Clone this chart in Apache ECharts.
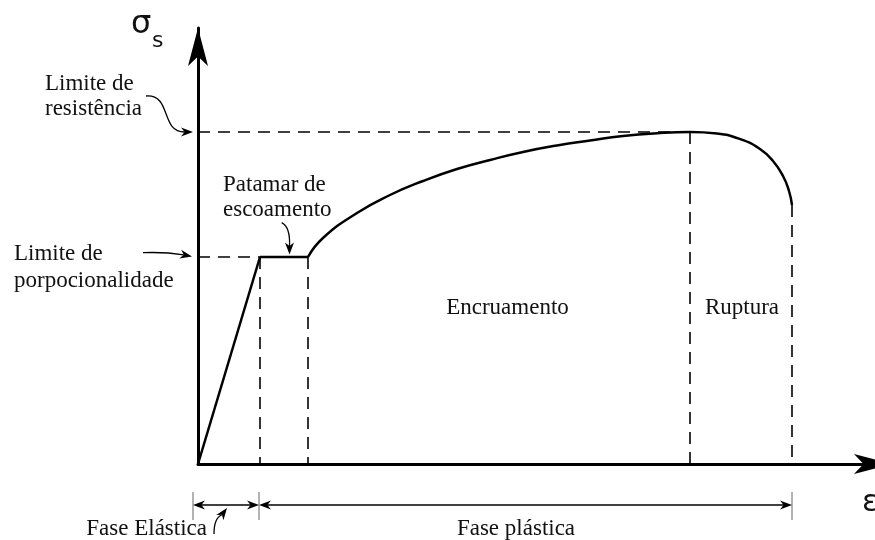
<!DOCTYPE html>
<html>
<head>
<meta charset="utf-8">
<script src="https://cdn.jsdelivr.net/npm/echarts@6/dist/echarts.min.js"></script>
<style>
  html, body { margin: 0; padding: 0; background: #fff; }
  #chart { width: 875px; height: 540px; }
</style>
</head>
<body>
<div id="chart"></div>
<script>
// 弹性段 (ε, σ)
const elastic = [[0, 0], [6.2, 20.7]];
// 屈服平台
const plateau = [[6.2, 20.7], [11.0, 20.7]];
// 强化段 + 颈缩段
const hardening = [
  [11.0, 20.7], [12.5, 22.6], [15.9, 25.1], [19.2, 26.9], [22.5, 28.3],
  [25.9, 29.5], [29.2, 30.4], [32.5, 31.2], [35.9, 31.85], [39.2, 32.35],
  [42.5, 32.8], [45.9, 33.08], [49.2, 33.2], [51.9, 33.05], [54.2, 32.5],
  [56.2, 31.5], [57.5, 30.3], [58.5, 28.8], [59.1, 27.3], [59.4, 25.9]
];
// 辅助虚线
const guidesH = [[0, 20.7, 6.2], [0, 33.2, 49.2]];
const guidesV = [[6.2, 20.7], [11.0, 20.7], [49.2, 33.2], [59.4, 25.9]];
// 阶段分界 (ε)
const phaseBounds = [-0.5, 6.1, 59.4];
const phaseNames = ['Fase Elástica', 'Fase plástica'];

const serif = 'Liberation Serif';
const ink = '#111';

const dashStyle = { color: '#000', width: 1.6, type: [12, 8] };
const solidStyle = { color: '#000', width: 2.5 };

const series = [];
guidesH.forEach(g => series.push({
  type: 'line', data: [[g[0], g[1]], [g[2], g[1]]], symbol: 'none', silent: true, lineStyle: dashStyle
}));
guidesV.forEach(g => series.push({
  type: 'line', data: [[g[0], g[1]], [g[0], 0]], symbol: 'none', silent: true, lineStyle: dashStyle
}));
series.push(
  { type: 'line', data: elastic, symbol: 'none', silent: true, lineStyle: solidStyle },
  { type: 'line', data: plateau, symbol: 'none', silent: true, lineStyle: solidStyle },
  { type: 'line', data: hardening, symbol: 'none', silent: true, smooth: 0.5, lineStyle: solidStyle }
);

const axisCommon = {
  type: 'value',
  axisLine: {
    show: true,
    symbol: ['none', 'arrow'],
    symbolSize: [15, 38],
    lineStyle: { color: '#000', width: 3 }
  },
  axisTick: { show: false },
  axisLabel: { show: false },
  splitLine: { show: false }
};

const option = {
  animation: false,
  backgroundColor: '#fff',
  grid: { left: 198, right: -17, top: 28, bottom: 76, containLabel: false, outerBoundsMode: 'none' },
  xAxis: Object.assign({}, axisCommon, { min: 0, max: 69.4 }),
  yAxis: Object.assign({}, axisCommon, { min: 0, max: 43.6 }),
  series: series
};

const chart = echarts.init(document.getElementById('chart'));
chart.setOption(option);

const toPx = pt => chart.convertToPixel({ gridIndex: 0 }, pt);

// 箭头
function arrowHead(tip, angle, len = 12, half = 4.5) {
  const c = Math.cos(angle), s = Math.sin(angle);
  const pt = (a, b) => [tip[0] + a * c - b * s, tip[1] + a * s + b * c];
  return {
    type: 'polygon', silent: true,
    shape: { points: [pt(0, 0), pt(-len, -half), pt(-len * 0.7, 0), pt(-len, half)] },
    style: { fill: '#000' }
  };
}

function curvedArrow(tail, cp1, cp2, tip, angle) {
  const len = 12;
  const end = [tip[0] - Math.cos(angle) * len * 0.7, tip[1] - Math.sin(angle) * len * 0.7];
  return [{
    type: 'bezierCurve', silent: true,
    shape: { x1: tail[0], y1: tail[1], cpx1: cp1[0], cpy1: cp1[1], cpx2: cp2[0], cpy2: cp2[1], x2: end[0], y2: end[1] },
    style: { stroke: '#000', lineWidth: 1.3, fill: null }
  }, arrowHead(tip, angle, len, 4.5)];
}

function label(text, x, y, opts = {}) {
  return {
    type: 'text', silent: true, x: x, y: y,
    style: Object.assign({
      text: text, font: '23px "' + serif + '"', fill: ink,
      textAlign: 'left', textVerticalAlign: 'middle', lineHeight: 26
    }, opts)
  };
}

const elements = [];

// 阶段尺寸线
const dimY = -4.1, dimTop = -2.8, dimBottom = -5.6;
phaseBounds.forEach(b => {
  const p1 = toPx([b, dimTop]), p2 = toPx([b, dimBottom]);
  elements.push({
    type: 'line', silent: true,
    shape: { x1: p1[0], y1: p1[1], x2: p2[0], y2: p2[1] },
    style: { stroke: '#666', lineWidth: 1 }
  });
});
for (let i = 0; i < phaseNames.length; i++) {
  const a = toPx([phaseBounds[i], dimY]), b = toPx([phaseBounds[i + 1], dimY]);
  elements.push({
    type: 'line', silent: true,
    shape: { x1: a[0] + 6, y1: a[1], x2: b[0] - 6, y2: b[1] },
    style: { stroke: '#000', lineWidth: 1.3 }
  });
  elements.push(arrowHead(a, Math.PI), arrowHead(b, 0));
}
elements.push(label(phaseNames[0], 207, 529, { textAlign: 'right' }));
elements.push(label(phaseNames[1], 516, 529, { textAlign: 'center' }));

// 注释文字
elements.push(label('Limite de\nresistência', 45, 96, { lineHeight: 25 }));
elements.push(label('Limite de\nporpocionalidade', 14, 267, { lineHeight: 27 }));
elements.push(label('Patamar de\nescoamento', 223, 197, { lineHeight: 25 }));

const enc = toPx([30.95, 15.6]);
elements.push(label('Encruamento', enc[0], enc[1], { textAlign: 'center' }));
const rup = toPx([54.4, 15.6]);
elements.push(label('Ruptura', rup[0], rup[1], { textAlign: 'center' }));

// 注释箭头
const tipRes = toPx([-0.5, 33.2]);
elements.push(...curvedArrow([146, 96], [172, 94], [160, tipRes[1]], tipRes, 0));
const tipProp = toPx([-0.6, 20.75]);
elements.push(...curvedArrow([143, 252.7], [160, 252], [172, 253], tipProp, 0.2));
const tipPat = toPx([9.15, 20.95]);
elements.push(...curvedArrow([281.7, 222.7], [288, 226], [290, 236], tipPat, Math.PI / 2));
const tipEl = toPx([2.9, dimY - 0.3]);
elements.push(...curvedArrow([214, 534], [214, 525], [216, 517], tipEl, -0.93));

// 轴名
elements.push(label('σ', 131, 25, { font: '32px "DejaVu Sans"' }));
elements.push(label('s', 152, 41, { font: '22px "DejaVu Sans"' }));
elements.push(label('ε', 862, 503, { font: '30px "DejaVu Sans"' }));

chart.setOption({ graphic: { elements: elements } });
</script>
</body>
</html>
